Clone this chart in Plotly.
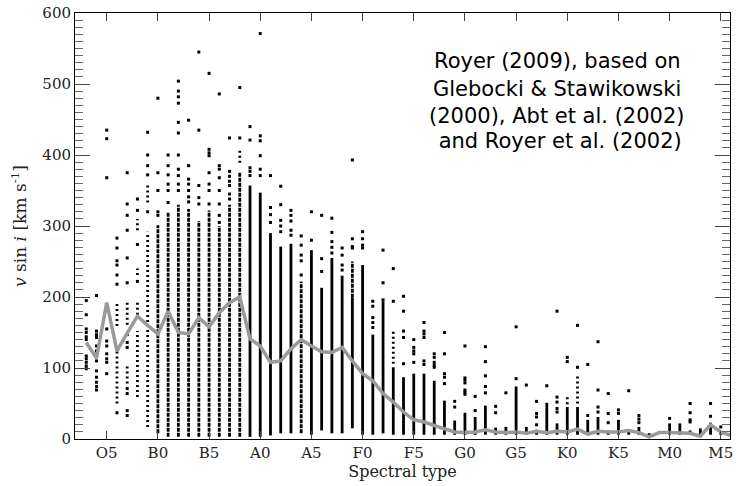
import plotly.graph_objects as go

# ---------------- data ----------------
CLASS_OFFSET = {"O": 0, "B": 10, "A": 20, "F": 30, "G": 40, "K": 50, "M": 60}

tick_types = ["O5", "B0", "B5", "A0", "A5", "F0", "F5", "G0", "G5", "K0", "K5", "M0", "M5"]

# mean v sin i per spectral subtype (grey curve)
mean_types = ["O3", "O4", "O5", "O6", "O7", "O8", "O9",
              "B0", "B1", "B2", "B3", "B4", "B5", "B6", "B7", "B8", "B9",
              "A0", "A1", "A2", "A3", "A4", "A5", "A6", "A7", "A8", "A9",
              "F0", "F1", "F2", "F3", "F4", "F5", "F6", "F7", "F8", "F9",
              "G0", "G1", "G2", "G3", "G4", "G5", "G6", "G7", "G8", "G9",
              "K0", "K1", "K2", "K3", "K4", "K5", "K6", "K7", "K8", "K9",
              "M0", "M1", "M2", "M3", "M4", "M5", "M6"]
mean_vsini = [136, 114, 192, 124, 149, 173, 160,
              148, 180, 150, 148, 171, 158, 178, 192, 200, 141,
              131, 108, 110, 127, 140, 131, 123, 122, 129, 110,
              92, 82, 64, 52, 38, 27, 24, 19, 15, 10,
              9, 10, 13, 10, 9, 10, 8, 11, 9, 11,
              10, 14, 7, 11, 10, 10, 12, 9, 3, 9,
              9, 9, 8, 4, 20, 10, 5]

# isolated stars (v sin i values) per subtype
single_stars = {
    "O3": [195, 175, 155, 150, 144, 140, 117, 113, 108, 103, 99],
    "O4": [202, 152, 147, 143, 131, 124, 117, 110, 96, 87, 80, 74, 69],
    "O5": [435, 423, 368, 155, 138, 131, 120, 113, 108, 92],
    "O6": [283, 269, 251, 245, 231, 218, 37],
    "O7": [375, 331, 315, 294, 255, 220, 147, 136, 129, 71, 64, 40, 33],
    "O8": [338, 322, 274, 222],
    "O9": [432, 400, 385, 372, 320],
    "B0": [480, 375, 350, 320, 315],
    "B1": [400, 385, 372, 359, 350, 333],
    "B2": [504, 490, 482, 473, 446, 431, 400, 380, 371, 359, 350],
    "B3": [449, 385, 366, 359, 350, 341, 334],
    "B4": [545, 435, 357, 340, 331],
    "B5": [515, 408, 403, 399, 375, 359, 350, 331],
    "B6": [486, 385, 380, 368, 350, 331, 315, 305],
    "B7": [424, 377, 370, 363, 357, 345, 338],
    "B8": [495, 424],
    "B9": [440, 421, 382, 377, 371],
    "A0": [571, 427, 420, 399, 380, 371],
    "A1": [371, 326, 316, 305],
    "A2": [356, 330, 308, 300, 292],
    "A3": [322, 315, 307, 294, 287],
    "A4": [286, 273, 259, 251, 231],
    "A5": [320, 280],
    "A6": [315, 254, 236],
    "A7": [311, 291, 278, 270, 262],
    "A8": [269, 259, 245, 238],
    "A9": [393, 282, 271, 269],
    "F0": [292, 282, 273, 269],
    "F1": [194, 187, 171, 164, 157],
    "F2": [266, 220, 196],
    "F3": [240, 194],
    "F4": [201, 180, 152, 143, 106],
    "F5": [140, 129, 124, 120, 108],
    "F6": [164, 152, 148, 143, 110, 105],
    "F7": [120, 115, 108, 104, 101],
    "F8": [150, 120, 92, 87, 78],
    "F9": [53, 45],
    "G0": [131, 86, 83, 79, 69, 66, 63],
    "G1": [60, 40],
    "G2": [130, 109, 89, 74, 65],
    "G3": [46, 37],
    "G4": [65],
    "G5": [158, 85],
    "G6": [76],
    "G7": [53, 36, 31, 20],
    "G8": [75],
    "G9": [180, 59, 52, 43, 38],
    "K0": [115, 109],
    "K1": [160, 101],
    "K2": [105, 33],
    "K3": [137, 69, 45, 38],
    "K4": [64, 36, 23],
    "K5": [41, 36],
    "K6": [68],
    "K7": [33, 28, 23],
    "K8": [6],
    "M0": [29],
    "M2": [50, 37, 27, 24],
    "M4": [50, 32],
    "M5": [17],
}

# v sin i intervals that are sparsely populated (many separate stars)
sparse_ranges = {
    "O6": [(159, 192), (50, 124)],
    "O7": [(161, 192), (78, 106)],
    "O8": [(294, 310), (231, 240), (175, 192), (59, 152)],
    "O9": [(333, 357), (17, 292)],
    "B8": [(389, 408)],
    "F3": [(106, 152)],
    "K0": [(49, 60)],
    "K1": [(50, 91)],
}

# intervals that are moderately populated
medium_ranges = {
    "B0": [(8, 301)], "B1": [(3, 320)], "B2": [(3, 330)], "B3": [(3, 324)],
    "B4": [(3, 307)], "B5": [(3, 322)], "B6": [(3, 300)], "B7": [(3, 330)],
    "B8": [(3, 375)], "A4": [(8, 222)], "A9": [(199, 250)],
}

# intervals that are densely populated (columns look solid)
dense_ranges = {
    "B9": [(3, 357)], "A0": [(3, 347)], "A1": [(5, 290)], "A2": [(8, 271)],
    "A3": [(8, 275)], "A5": [(6, 266)], "A6": [(12, 213)], "A7": [(8, 255)],
    "A8": [(8, 230)], "A9": [(15, 199)],
    "F0": [(6, 245)], "F1": [(6, 147)], "F2": [(8, 194)], "F3": [(6, 101)],
    "F4": [(6, 87)], "F5": [(6, 92)], "F6": [(6, 92)], "F7": [(6, 82)],
    "F8": [(6, 54)], "F9": [(6, 26)],
    "G0": [(6, 37)], "G1": [(6, 31)], "G2": [(6, 47)], "G3": [(6, 16)],
    "G4": [(6, 17)], "G5": [(6, 74)], "G6": [(6, 17)], "G7": [(6, 13)],
    "G8": [(6, 51)], "G9": [(6, 22)],
    "K0": [(6, 45)], "K1": [(6, 45)], "K2": [(6, 27)], "K3": [(6, 31)],
    "K4": [(6, 12)], "K5": [(6, 27)], "K6": [(6, 12)], "K7": [(6, 17)],
    "M0": [(6, 22)], "M1": [(6, 22)], "M2": [(6, 12)], "M3": [(6, 15)],
    "M4": [(6, 23)], "M5": [(6, 10)],
}

annotation_lines = ["Royer (2009), based on",
                    "Glebocki &amp; Stawikowski",
                    "(2000), Abt et al. (2002)",
                    " and Royer et al. (2002)"]
annotation_x = 49                       # subtype coordinate of the text block centre
annotation_y = [532, 493, 455, 420]     # v sin i coordinate of each line


# ---------------- helpers ----------------
def subtype_index(sp):
    return CLASS_OFFSET[sp[0]] + float(sp[1:])


def range_trace(ranges, dash, width):
    xs, ys = [], []
    for sp, segs in ranges.items():
        for lo, hi in segs:
            xs += [subtype_index(sp), subtype_index(sp), None]
            ys += [lo, hi, None]
    return go.Scatter(x=xs, y=ys, mode="lines", hoverinfo="skip",
                      line=dict(color="black", width=width, dash=dash),
                      showlegend=False)


fig = go.Figure()

fig.add_trace(range_trace(sparse_ranges, "2px,3px", 2.8))
fig.add_trace(range_trace(medium_ranges, "4px,1px", 2.8))
fig.add_trace(range_trace(dense_ranges, "solid", 2.8))

px, py = [], []
for sp, vals in single_stars.items():
    for v in vals:
        px.append(subtype_index(sp))
        py.append(v)
fig.add_trace(go.Scatter(x=px, y=py, mode="markers", showlegend=False,
                         marker=dict(symbol="square", size=3, color="black",
                                     line=dict(width=0))))

fig.add_trace(go.Scatter(x=[subtype_index(s) for s in mean_types], y=mean_vsini,
                         mode="lines", showlegend=False,
                         line=dict(color="#9a9a9a", width=3.5)))

axis_font = dict(family="DejaVu Serif", size=15, color="#222222")
title_font = dict(family="DejaVu Serif", size=16, color="#222222")

fig.update_layout(
    width=737, height=486,
    margin=dict(l=75, r=4, t=9, b=47),
    paper_bgcolor="white", plot_bgcolor="white",
    xaxis=dict(range=[1.9, 65.9],
               tickvals=[subtype_index(t) for t in tick_types], ticktext=tick_types,
               ticks="inside", ticklen=8, tickcolor="#444", showline=True,
               linecolor="black", linewidth=1, mirror="ticks",
               showgrid=False, zeroline=False, tickfont=axis_font,
               title=dict(text="Spectral type", font=title_font, standoff=4)),
    yaxis=dict(range=[0, 600], dtick=100, ticks="inside", ticklen=15,
               tickcolor="#444", showline=True, linecolor="black", linewidth=1,
               mirror="ticks", showgrid=False, zeroline=False, tickfont=axis_font,
               minor=dict(dtick=10, ticks="inside", ticklen=8, tickcolor="#666"),
               title=dict(text="<i>v</i> sin <i>i</i> [km s<sup>-1</sup>]",
                          font=dict(family="DejaVu Serif", size=17, color="#222222"),
                          standoff=11)),
    annotations=[dict(x=annotation_x, y=yv, xref="x", yref="y", text=t,
                      showarrow=False, xanchor="center", yanchor="middle",
                      font=dict(family="DejaVu Sans", size=21, color="black"))
                 for t, yv in zip(annotation_lines, annotation_y)],
)

fig.write_html("out.html")
